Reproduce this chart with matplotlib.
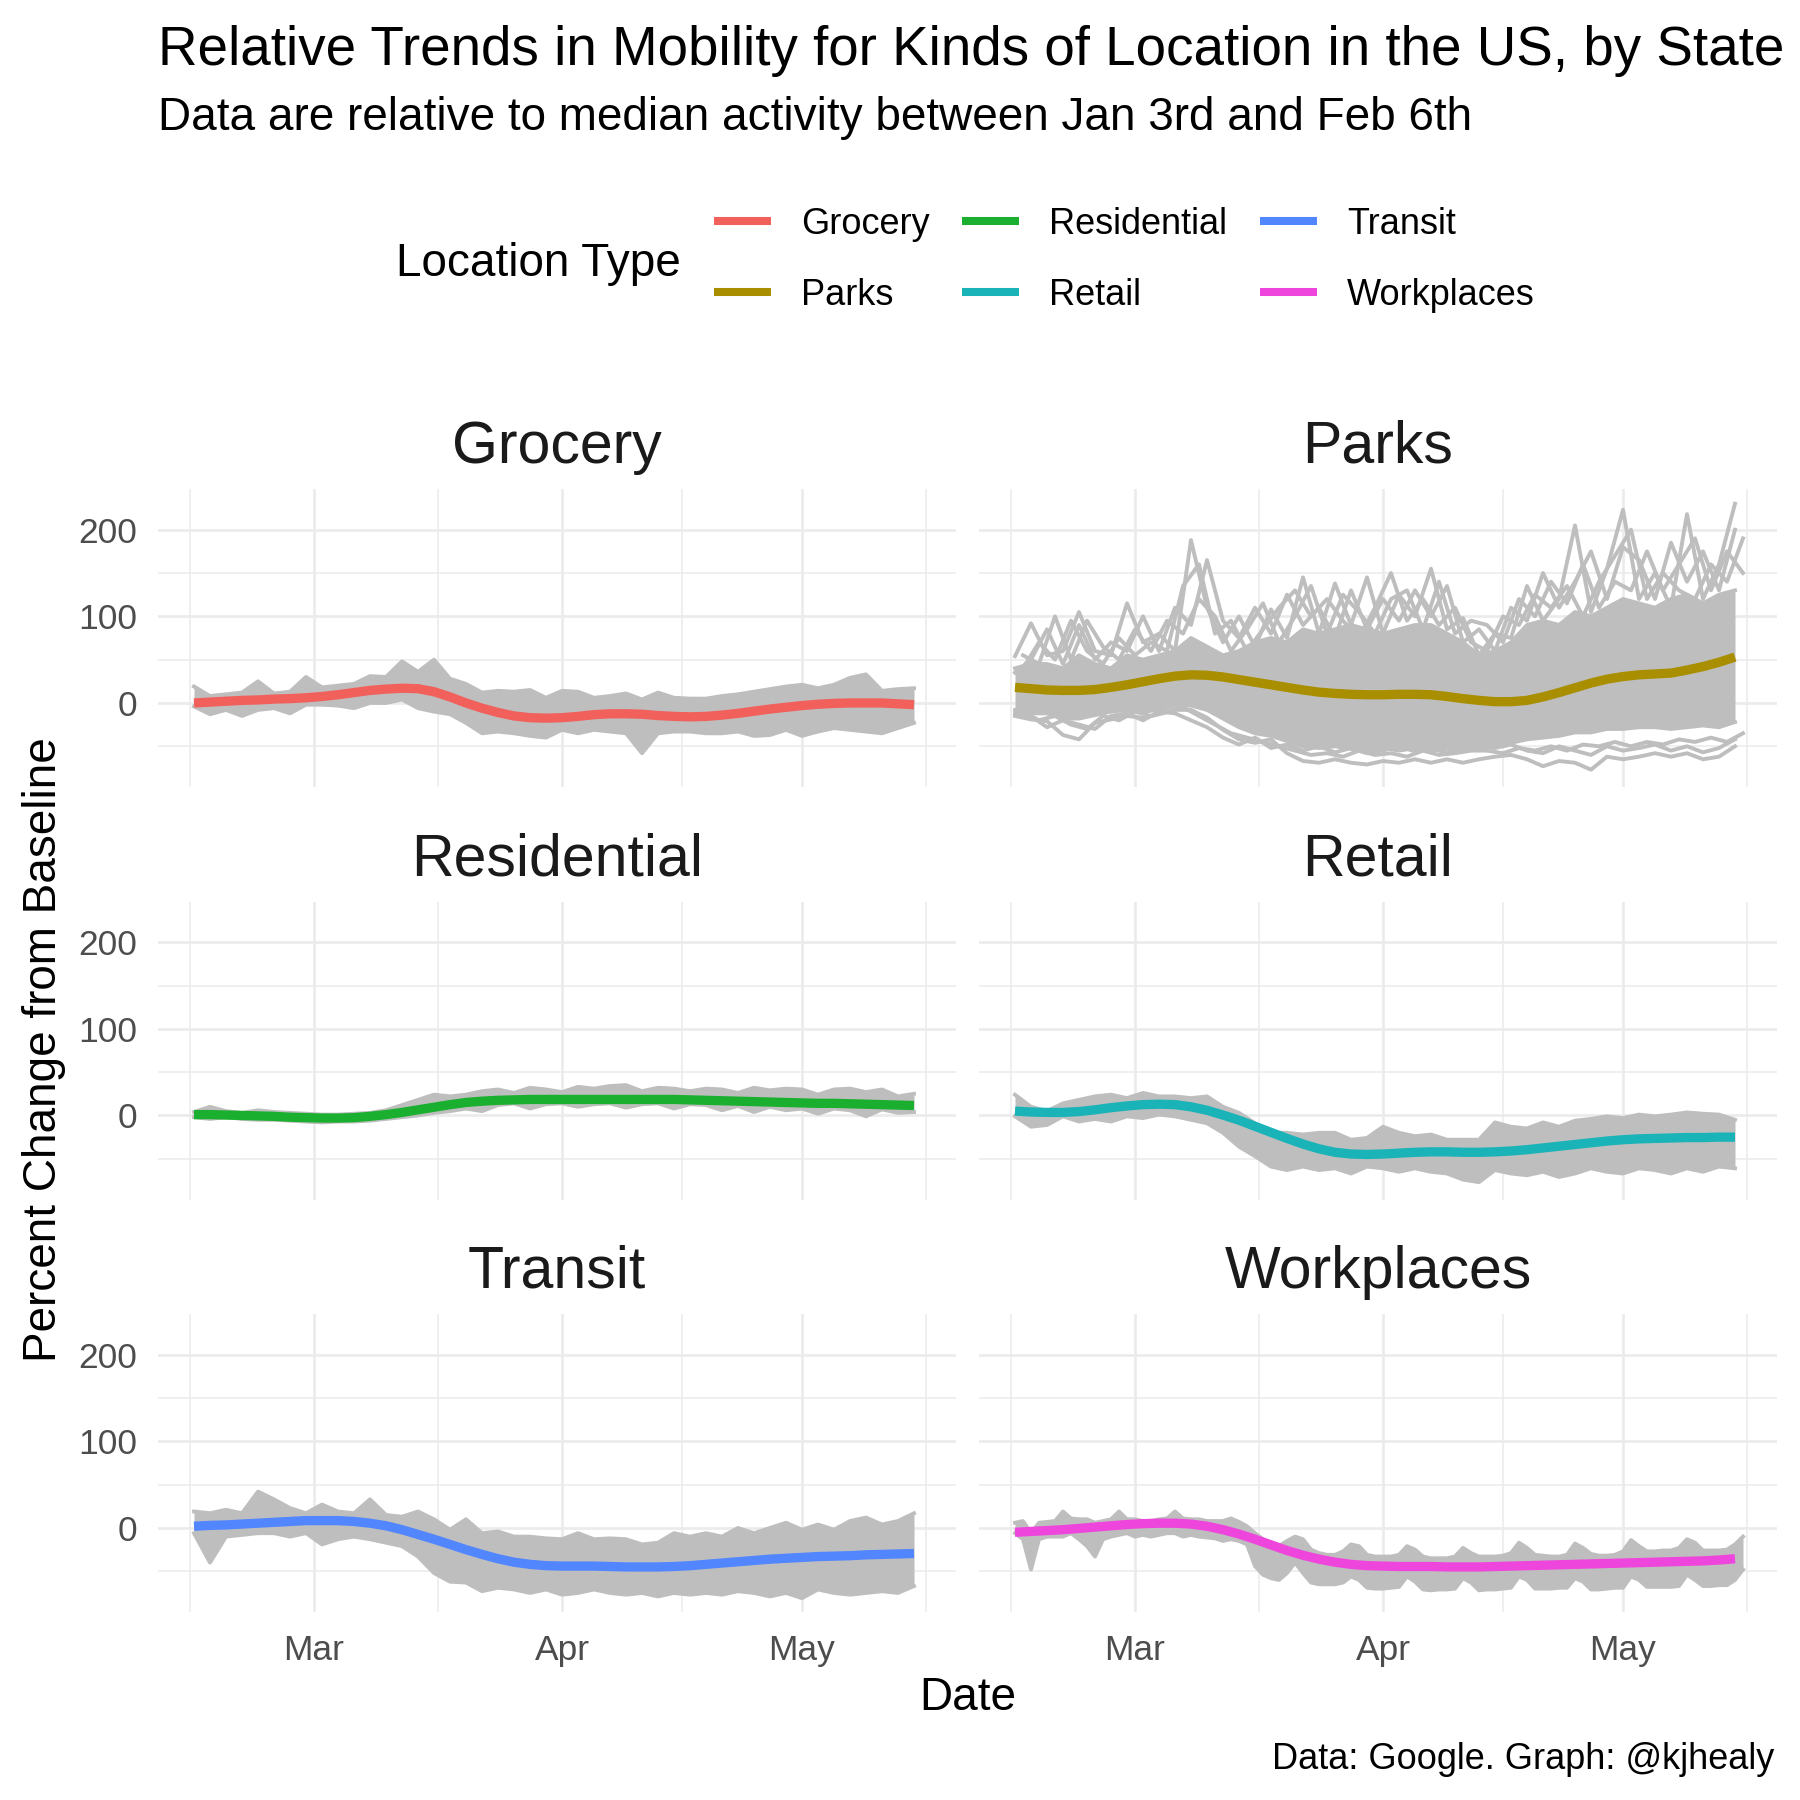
import numpy as np
import pandas as pd
import matplotlib
matplotlib.use('Agg')
import matplotlib.pyplot as plt
import matplotlib.dates as mdates
from matplotlib.lines import Line2D
from datetime import datetime

plt.rcParams['font.family'] = ['Liberation Sans', 'DejaVu Sans']

# dates: every second day (two offsets) and every day
days_even = pd.date_range('2020-02-15', '2020-05-15', freq='2D')
days_odd = pd.date_range('2020-02-16', '2020-05-16', freq='2D')
days_all = pd.date_range('2020-02-15', '2020-05-16', freq='D')

kinds = ['Grocery', 'Parks', 'Residential', 'Retail', 'Transit', 'Workplaces']
kind_colors = ['#F2605C', '#A98F00', '#1AAF2E', '#19B3B8', '#5186FF', '#EE45DC']

# ---- Grocery (even days)
grocery_trend = [0, 1, 2, 3, 3.5, 4.5, 5, 6, 7.5, 9.5,
                 12, 14.5, 16, 17, 16.5, 13, 7, 0, -6, -11,
                 -15, -17, -17.5, -17, -15.5, -13.5, -12.5, -12.5, -13, -14.5,
                 -15.5, -16, -15.5, -14, -12, -9.5, -7, -5, -3, -1.5,
                 -0.5, 0, 0, 0, -1, -2]
grocery_high = [19, 8, 10, 12, 25, 11, 13, 30, 18, 20,
                22, 31, 30, 48, 36, 50, 28, 22, 12, 14,
                13, 15, 6, 14, 13, 6, 8, 11, 4, 12,
                6, 5, 5, 8, 10, 13, 16, 19, 21, 17,
                21, 29, 33, 14, 16, 17]
grocery_low = [-4, -13, -8, -15, -8, -6, -12, -2, -2, -3,
               -6, 0, 0, 4, -6, -10, -13, -23, -35, -33,
               -35, -38, -40, -31, -35, -31, -33, -35, -58, -35,
               -33, -33, -35, -35, -33, -38, -37, -31, -38, -33,
               -29, -31, -33, -35, -29, -23]

# ---- Parks (even days unless noted)
parks_trend = [18, 16.5, 15, 14.5, 14.5, 15.5, 18, 21, 24.5, 28,
               31, 32.5, 32, 30, 27, 24, 21, 18, 15, 12.5,
               11, 10, 9.5, 9.5, 10, 10, 9.5, 7.5, 5, 3,
               1.5, 1.5, 3, 7, 12, 17.5, 23, 27.5, 30.5, 32.5,
               33.5, 34.5, 38, 42, 47, 53]
parks_core_high = [40, 45, 45, 40, 55, 45, 40, 55, 50, 55,
                   60, 75, 65, 55, 60, 70, 75, 70, 85, 80,
                   85, 90, 85, 80, 85, 90, 90, 80, 70, 55,
                   60, 70, 90, 95, 90, 105, 100, 110, 120, 115,
                   110, 120, 125, 115, 125, 130]
parks_core_low = [-8, -12, -12, -18, -18, -14, -10, -8, -10, -8,
                  -3, -3, -8, -18, -28, -35, -38, -44, -50, -52,
                  -50, -53, -55, -52, -55, -52, -55, -53, -55, -52,
                  -50, -46, -42, -40, -38, -34, -34, -30, -30, -28,
                  -28, -30, -28, -26, -28, -22]
parks_high = [54, 92, 55, 60, 105, 60, 55, 115, 70, 80,
              60, 188, 110, 70, 100, 65, 108, 75, 145, 80,
              138, 90, 145, 80, 125, 100, 155, 85, 98, 55,
              80, 75, 135, 95, 120, 205, 105, 155, 223, 120,
              150, 110, 218, 120, 160, 230]
parks_high_b = [35, 50, 85, 45, 90, 50, 70, 60, 100, 60,
                110, 90, 165, 95, 75, 110, 80, 125, 90, 110,
                75, 130, 85, 120, 95, 130, 100, 135, 70, 85,
                60, 110, 95, 150, 110, 140, 175, 120, 180, 165,
                120, 185, 140, 175, 130, 200]
parks_high_odd = [40, 70, 50, 95, 60, 45, 75, 55, 70, 60,
                  135, 160, 80, 95, 60, 85, 110, 130, 100, 120,
                  95, 75, 110, 150, 95, 120, 90, 110, 70, 60,
                  100, 90, 125, 110, 135, 100, 140, 170, 200, 120,
                  150, 130, 120, 160, 140, 190]
parks_high_odd_b = [55, 45, 100, 50, 95, 65, 50, 85, 60, 95,
                    80, 120, 100, 60, 85, 115, 70, 100, 135, 80,
                    125, 105, 80, 120, 130, 85, 140, 80, 95, 90,
                    70, 120, 100, 140, 115, 160, 110, 140, 130, 175,
                    130, 160, 190, 130, 175, 150]
parks_low = [-15, -19, -21, -37, -42, -23, -19, -15, -17, -13,
             -8, -8, -17, -31, -42, -46, -42, -58, -67, -69,
             -65, -69, -71, -67, -69, -65, -69, -65, -69, -65,
             -62, -60, -65, -73, -67, -69, -77, -62, -65, -62,
             -58, -62, -58, -65, -62, -50]
parks_low_b = [-12, -15, -28, -20, -25, -30, -15, -12, -20, -10,
               -12, -20, -28, -40, -48, -40, -52, -48, -55, -50,
               -57, -52, -58, -55, -50, -56, -52, -58, -54, -50,
               -52, -48, -55, -58, -50, -55, -60, -50, -55, -52,
               -48, -55, -50, -57, -52, -42]
parks_low_odd = [-10, -20, -15, -25, -30, -15, -20, -10, -15, -10,
                 -5, -15, -25, -35, -40, -45, -50, -55, -60, -58,
                 -62, -55, -60, -58, -62, -55, -60, -58, -55, -55,
                 -58, -52, -55, -50, -55, -48, -50, -45, -50, -45,
                 -48, -42, -45, -40, -45, -35]

# ---- Residential (even days)
residential_trend = [1, 1, 0.5, 0, -0.5, -1, -2, -2.5, -3, -3,
                     -2.5, -1, 1, 3.5, 6.5, 9.5, 12.5, 15, 16.5, 17.5,
                     18, 18.5, 18.5, 18.5, 18.5, 18.5, 18.5, 18.5, 18.5, 18.5,
                     18.5, 18, 17.5, 17, 16.5, 16, 15.5, 15, 14.5, 14,
                     14, 13.5, 13, 12.5, 12, 11.5]
residential_high = [4, 10, 5, 3, 6, 4, 3, 2, 1, 1,
                    2, 3, 6, 12, 18, 24, 22, 24, 28, 30,
                    26, 32, 30, 27, 33, 31, 34, 35, 28, 32,
                    31, 28, 31, 30, 26, 32, 29, 31, 30, 24,
                    30, 31, 27, 30, 22, 25]
residential_low = [-2, -4, -2, -4, -5, -5, -6, -7, -8, -7,
                   -7, -6, -4, -2, 0, 3, 5, 8, 5, 12,
                   14, 8, 13, 14, 10, 13, 14, 9, 13, 14,
                   8, 13, 12, 6, 11, 4, 10, 6, 8, 2,
                   8, 6, -1, 7, 3, 4]

# ---- Retail (even days)
retail_trend = [5, 4, 3.5, 3.5, 4.5, 6.5, 9, 11, 12.5, 13,
                12.5, 10, 6, 0.5, -5.5, -12.5, -19.5, -26.5, -33, -38.5,
                -42.5, -44.5, -45, -44.5, -43.5, -42.5, -42, -42, -42.5, -42.5,
                -42, -41, -39.5, -37.5, -35.5, -33.5, -31.5, -29.5, -28, -27,
                -26.5, -26, -25.5, -25.5, -25, -25]
retail_high = [24, 10, 5, 14, 18, 22, 24, 20, 26, 22,
               22, 20, 22, 10, 3, -9, -20, -20, -22, -20,
               -20, -28, -26, -13, -20, -24, -22, -28, -28, -28,
               -8, -13, -15, -8, -13, -6, -4, -1, -3, 1,
               -1, 1, 3.5, 2, 1, -5]
retail_low = [-1, -13, -11, -1, -7, -4, -7, -1, -3, 1,
              -1, -5, -9, -20, -36, -47, -59, -63, -59, -63,
              -61, -67, -59, -61, -65, -61, -65, -67, -74, -77,
              -63, -67, -69, -65, -71, -67, -61, -65, -67, -61,
              -63, -67, -61, -65, -59, -61]

# ---- Transit (even days)
transit_trend = [2, 3, 3.5, 4.5, 5.5, 6.5, 7.5, 8.5, 8.5, 8.5,
                 7.5, 5.5, 2.5, -2, -7.5, -13, -19, -25, -30.5, -35.5,
                 -39.5, -42, -43.5, -44, -44, -44, -44.5, -45, -45, -45,
                 -44.5, -43.5, -42, -40.5, -39, -37.5, -36, -35, -34, -33,
                 -32.5, -32, -31, -30.5, -30, -29.5]
transit_high = [19, 17, 21, 17, 42, 33, 23, 17, 27, 19,
                17, 33, 15, 13, 19, 10, -2, 10, -6, -4,
                -10, -10, -12, -13, -6, -13, -12, -13, -19, -17,
                -6, -10, -6, -10, 0, -6, 0, 6, -2, 4,
                -2, 8, 12, 4, 8, 17]
transit_low = [-6, -40, -10, -8, -6, -6, -10, -6, -19, -13,
               -10, -13, -17, -21, -33, -52, -62, -63, -73, -69,
               -71, -75, -71, -77, -75, -71, -75, -77, -75, -79,
               -75, -77, -75, -77, -73, -75, -79, -75, -81, -71,
               -75, -77, -75, -73, -75, -67]

# ---- Workplaces (trend on even days, band on every day)
work_trend = [-5, -4, -3, -2, -0.5, 1, 2.5, 4, 5, 5.5,
              5.5, 4.5, 2, -2, -7, -13, -19.5, -26, -31.5, -36,
              -39.5, -42, -43.5, -44, -44.5, -44.5, -44.5, -45, -45, -45,
              -44.5, -44, -43.5, -43, -42.5, -42, -41.5, -41, -40.5, -40,
              -39.5, -39, -38.5, -38, -37, -35.5]
work_high = [6, 8, -6, 6, 7, 8, 19, 11, 10, 10,
             6, 8, 10, 19, 10, 10, 8, 8, 10, 11,
             19, 11, 10, 10, 8, 8, 8, 11, 7, 2,
             -6, -13, -19, -21, -15, -10, -13, -25, -29, -31,
             -31, -27, -19, -21, -31, -33, -33, -33, -31, -21,
             -25, -33, -35, -35, -35, -33, -23, -29, -33, -33,
             -33, -32, -29, -17, -23, -31, -32, -33, -33, -31,
             -18, -23, -30, -32, -32, -31, -27, -14, -21, -27,
             -27, -26, -26, -23, -13, -17, -26, -26, -26, -25,
             -19, -10]
work_low = [-6, -13, -48, -13, -10, -10, -10, -6, -13, -21,
            -33, -13, -10, -8, -6, -10, -8, -10, -8, -6,
            -6, -10, -8, -10, -11, -12, -15, -13, -15, -19,
            -44, -54, -58, -60, -52, -40, -52, -63, -65, -65,
            -65, -63, -56, -60, -69, -70, -70, -69, -68, -56,
            -62, -71, -72, -71, -71, -70, -58, -63, -72, -71,
            -71, -70, -69, -56, -60, -70, -70, -70, -69, -69,
            -58, -62, -71, -71, -70, -69, -69, -56, -60, -68,
            -68, -68, -68, -67, -54, -60, -67, -67, -66, -66,
            -60, -48]

trends = {'Grocery': grocery_trend, 'Parks': parks_trend,
          'Residential': residential_trend, 'Retail': retail_trend,
          'Transit': transit_trend, 'Workplaces': work_trend}
bands = {'Grocery': (days_even, grocery_low, grocery_high),
         'Parks': (days_even, parks_core_low, parks_core_high),
         'Residential': (days_even, residential_low, residential_high),
         'Retail': (days_even, retail_low, retail_high),
         'Transit': (days_even, transit_low, transit_high),
         'Workplaces': (days_all, work_low, work_high)}
extra_lines = {'Parks': [(days_even, parks_high), (days_even, parks_high_b),
                         (days_odd, parks_high_odd), (days_odd, parks_high_odd_b),
                         (days_even, parks_low), (days_even, parks_low_b),
                         (days_odd, parks_low_odd)]}

grey = '#BEBEBE'
grid_col = '#EBEBEB'

W = H = 1800
col_x = [158, 979]
row_top = [489, 901.5, 1314]
pw, ph = 798, 298

fig = plt.figure(figsize=(18, 18), dpi=100)
fig.patch.set_facecolor('white')

x_lo = mdates.date2num(datetime(2020, 2, 10, 12))
x_hi = mdates.date2num(datetime(2020, 5, 20, 6))
major_x = mdates.date2num([datetime(2020, 3, 1), datetime(2020, 4, 1), datetime(2020, 5, 1)])
minor_x = mdates.date2num([datetime(2020, 2, 14, 12), datetime(2020, 3, 16, 12),
                           datetime(2020, 4, 16), datetime(2020, 5, 16, 12)])

for k, name in enumerate(kinds):
    r, c = divmod(k, 2)
    ax = fig.add_axes([col_x[c] / W, 1 - (row_top[r] + ph) / H, pw / W, ph / H])
    bx, lo, hi = bands[name]
    ax.fill_between(bx, lo, hi, color=grey, lw=0, zorder=2)
    ax.plot(bx, hi, color=grey, lw=2.8, zorder=2)
    ax.plot(bx, lo, color=grey, lw=2.8, zorder=2)
    for xs, ys in extra_lines.get(name, []):
        ax.plot(xs, ys, color=grey, lw=2.8, zorder=2)
    ax.plot(days_even, trends[name], color=kind_colors[k], lw=6.7, zorder=3,
            solid_capstyle='butt')

    for s in ax.spines.values():
        s.set_visible(False)
    ax.set_xlim(x_lo, x_hi)
    ax.set_ylim(-97, 247)
    ax.set_yticks([0, 100, 200])
    ax.set_yticks([-50, 50, 150], minor=True)
    ax.set_xticks(major_x)
    ax.set_xticklabels(['Mar', 'Apr', 'May'])
    ax.set_xticks(minor_x, minor=True)
    ax.grid(which='major', color=grid_col, lw=1.9)
    ax.grid(which='minor', color=grid_col, lw=1.1)
    ax.set_axisbelow(True)
    ax.tick_params(which='both', length=0)
    ax.tick_params(axis='y', labelsize=25.5, labelcolor='#4D4D4D', pad=15)
    ax.tick_params(axis='x', labelsize=25.5, labelcolor='#4D4D4D', pad=16)
    if c == 1:
        ax.tick_params(axis='y', labelleft=False)
    if r < 2:
        ax.tick_params(axis='x', labelbottom=False)
    ax.set_title(name, fontsize=42.5, pad=19, color='#1A1A1A')

# titles and labels
fig.text(158 / W, 1 - 65 / H,
         'Relative Trends in Mobility for Kinds of Location in the US, by State',
         fontsize=39.4, va='baseline', ha='left')
fig.text(158 / W, 1 - 130 / H,
         'Data are relative to median activity between Jan 3rd and Feb 6th',
         fontsize=33, va='baseline', ha='left')
fig.text(396 / W, 1 - 275.5 / H, 'Location Type', fontsize=33, va='baseline')
fig.text(967.5 / W, 1 - 1710 / H, 'Date', fontsize=33, ha='center', va='baseline')
fig.text(1774 / W, 1 - 1769 / H, 'Data: Google. Graph: @kjhealy', fontsize=26,
         ha='right', va='baseline')
fig.text(44 / W, 1 - 1050 / H, 'Percent Change from Baseline', fontsize=33,
         rotation=90, ha='center', va='center')

handles = [Line2D([], [], color=col, lw=5.8, solid_capstyle='butt') for col in kind_colors]
fig.legend(handles, kinds, ncol=3, loc='center left',
           bbox_to_anchor=(714 / W, 1 - 260 / H), frameon=False, fontsize=26,
           handlelength=1.58, handletextpad=0.83, columnspacing=0.9,
           labelspacing=1.0, borderpad=0, borderaxespad=0)

fig.savefig('out.png', dpi=100, facecolor='white')
